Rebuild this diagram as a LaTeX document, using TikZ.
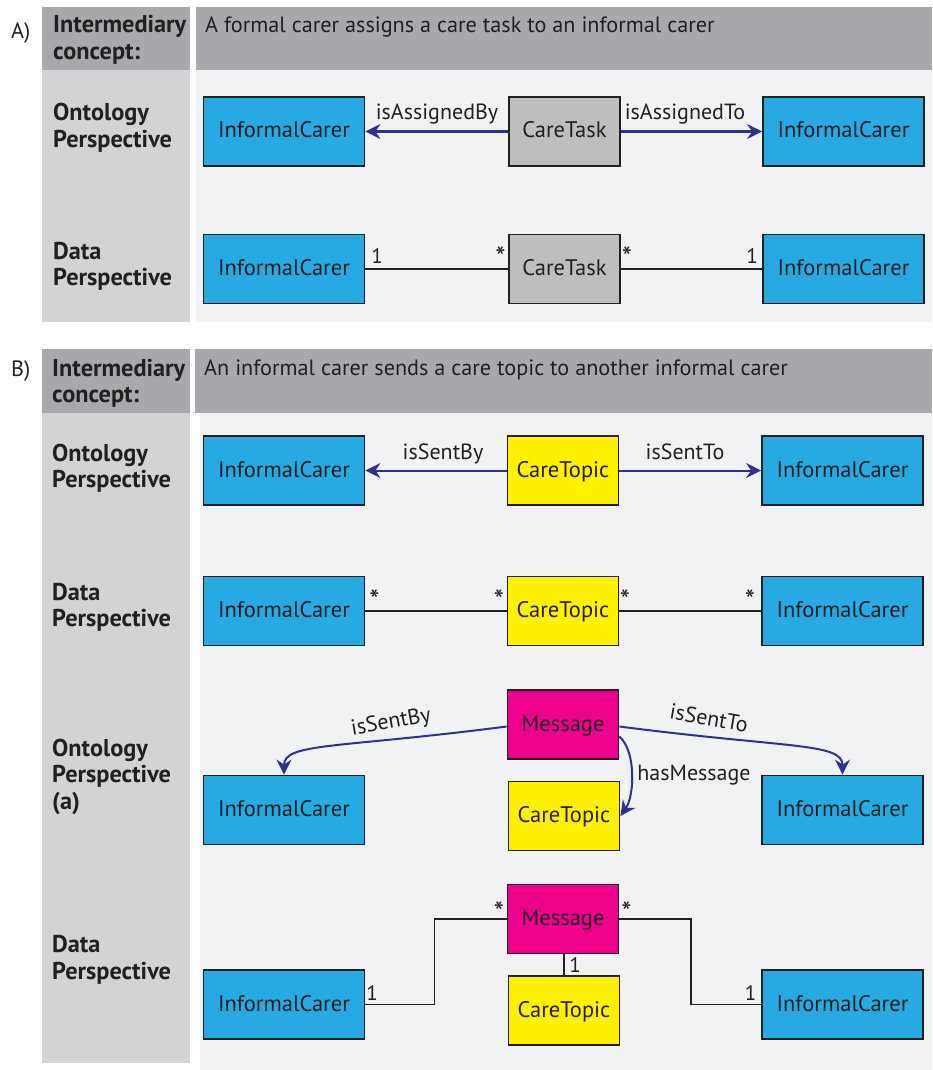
\documentclass[tikz,border=0pt]{standalone}
\usepackage{fontspec}
\setmainfont{PT Sans}
\usetikzlibrary{arrows.meta}

\definecolor{hdr}{HTML}{A7A9AC}
\definecolor{sidecol}{HTML}{D1D3D4}
\definecolor{panel}{HTML}{F1F2F4}
\definecolor{ink}{HTML}{231F20}
\definecolor{carerblue}{HTML}{27AAE1}
\definecolor{taskgray}{HTML}{BCBEC0}
\definecolor{topicyellow}{HTML}{FFF200}
\definecolor{msgmagenta}{HTML}{EC008C}
\definecolor{relblue}{HTML}{2E3192}

\begin{document}
\begin{tikzpicture}[x=1pt, y=-1pt,
  box/.style={draw=ink, line width=1.8pt, minimum height=69pt, inner sep=0pt,
    text=ink, text height=18pt, text depth=5pt, font=\fontsize{22.5}{27}\selectfont},
  carer/.style={box, fill=carerblue, minimum width=161pt},
  task/.style={box, fill=taskgray, minimum width=111pt},
  topic/.style={box, fill=topicyellow, minimum width=111pt},
  msg/.style={box, fill=msgmagenta, minimum width=111pt},
  rel/.style={draw=relblue, line width=2pt,
    -{Stealth[length=15pt, width=15pt, inset=5pt]}},
  assoc/.style={draw=ink, line width=1.7pt},
  rellabel/.style={text=ink, inner sep=0pt, font=\fontsize{22}{26}\selectfont},
  mult/.style={text=ink, inner sep=0pt, anchor=base, font=\fontsize{21}{25}\selectfont},
  many/.style={text=ink, inner sep=0pt, anchor=north, font=\fontsize{29}{34}\selectfont},
  side/.style={text=ink, inner sep=0pt, anchor=base west,
    font=\bfseries\fontsize{24.3}{26.5}\selectfont},
  headtext/.style={text=ink, inner sep=0pt, anchor=base west,
    font=\fontsize{22.2}{26}\selectfont},
]
\useasboundingbox (0,0) rectangle (932,1070);

% ---------- panel A backgrounds ----------
\fill[hdr] (42,7) rectangle (190,70);
\fill[hdr] (196,7) rectangle (932,70);
\fill[sidecol] (42,70) rectangle (190,322);
\fill[panel] (196,70) rectangle (932,322);

% ---------- panel B backgrounds ----------
\fill[hdr] (42,349) rectangle (190,413);
\fill[hdr] (195,349) rectangle (932,413);
\fill[sidecol] (42,413) rectangle (190,1063);
\fill[panel] (200,413) rectangle (932,1070);

% ---------- panel letters and headers ----------
\node[headtext] (labA) at (11,39) {A)};
\node[headtext] (labB) at (11,376) {B)};
\node[headtext] (headA) at (205,33) {A formal carer assigns a care task to an informal carer};
\node[headtext] (headB) at (204,375) {An informal carer sends a care topic to another informal carer};

% ---------- row titles ----------
\node[side] (sA0) at (53,33) {\begin{tabular}[t]{@{}l@{}}Intermediary\\concept:\end{tabular}};
\node[side] (sA1) at (53,121) {\begin{tabular}[t]{@{}l@{}}Ontology\\Perspective\end{tabular}};
\node[side] (sA2) at (53,259) {\begin{tabular}[t]{@{}l@{}}Data\\Perspective\end{tabular}};
\node[side] (sB0) at (52,376) {\begin{tabular}[t]{@{}l@{}}Intermediary\\concept:\end{tabular}};
\node[side] (sB1) at (52,461) {\begin{tabular}[t]{@{}l@{}}Ontology\\Perspective\end{tabular}};
\node[side] (sB2) at (52,600) {\begin{tabular}[t]{@{}l@{}}Data\\Perspective\end{tabular}};
\node[side] (sB3) at (52,756) {\begin{tabular}[t]{@{}l@{}}Ontology\\Perspective\\(a)\end{tabular}};
\node[side] (sB4) at (52,952.5) {\begin{tabular}[t]{@{}l@{}}Data\\Perspective\end{tabular}};

% ---------- A: ontology perspective ----------
\node[carer] (icA1) at (284,131.5) {InformalCarer};
\node[task]  (ctA1) at (564.5,131.5) {CareTask};
\node[carer] (icA2) at (843.5,131.5) {InformalCarer};
\draw[rel] (ctA1.west) -- (icA1.east);
\draw[rel] (ctA1.east) -- (icA2.west);
\node[rellabel, anchor=base] (rA1) at (437,120) {isAssignedBy};
\node[rellabel, anchor=base] (rA2) at (685,120) {isAssignedTo};

% ---------- A: data perspective ----------
\node[carer] (icA3) at (284,269) {InformalCarer};
\node[task]  (ctA2) at (564.5,269) {CareTask};
\node[carer] (icA4) at (843.5,269) {InformalCarer};
\draw[assoc] (icA3.east) -- (ctA2.west);
\draw[assoc] (ctA2.east) -- (icA4.west);
\node[mult] (mA1) at (377,263) {1};
\node[many] (mA2) at (500.5,247) {*};
\node[many] (mA3) at (627,247) {*};
\node[mult] (mA4) at (752,263) {1};

% ---------- B: ontology perspective ----------
\node[carer] (icB1) at (284,470.5) {InformalCarer};
\node[topic] (tpB1) at (563,470.5) {CareTopic};
\node[carer] (icB2) at (842.5,470.5) {InformalCarer};
\draw[rel] (tpB1.west) -- (icB1.east);
\draw[rel] (tpB1.east) -- (icB2.west);
\node[rellabel, anchor=base] (rB1) at (443,459) {isSentBy};
\node[rellabel, anchor=base] (rB2) at (685,459) {isSentTo};

% ---------- B: data perspective ----------
\node[carer] (icB3) at (284,611) {InformalCarer};
\node[topic] (tpB2) at (563,611) {CareTopic};
\node[carer] (icB4) at (842.5,611) {InformalCarer};
\draw[assoc] (icB3.east) -- (tpB2.west);
\draw[assoc] (tpB2.east) -- (icB4.west);
\node[many] (mB1) at (374.5,590) {*};
\node[many] (mB2) at (499,590) {*};
\node[many] (mB3) at (625,590) {*};
\node[many] (mB4) at (750,590) {*};

% ---------- B: ontology perspective (a) ----------
\node[msg]   (msC)  at (563,724.5) {Message};
\node[carer] (icC1) at (284,810) {InformalCarer};
\node[topic] (tpC)  at (564,816) {CareTopic};
\node[carer] (icC2) at (842.5,810) {InformalCarer};
\draw[rel] ([yshift=-2pt]msC.west) .. controls +(-170,22) and +(0,-32) .. (icC1.north);
\draw[rel] ([yshift=-2pt]msC.east) .. controls +(170,22) and +(0,-32) .. (icC2.north);
\draw[rel] ([yshift=-12pt]msC.east) .. controls +(17,15) and +(14,-20) .. (tpC.east);
\node[rellabel, rotate=10]  (rC1) at (391,723) {isSentBy};
\node[rellabel, rotate=-10] (rC2) at (709,718) {isSentTo};
\node[rellabel, anchor=base] (rC3) at (694,780) {hasMessage};

% ---------- B: data perspective (a) ----------
\node[msg]   (msD)  at (563,919) {Message};
\node[topic] (tpD)  at (564,1010.5) {CareTopic};
\node[carer] (icD1) at (284,1004.5) {InformalCarer};
\node[carer] (icD2) at (842.5,1004.5) {InformalCarer};
\draw[assoc] (msD.west) -- ++(-72,0) |- (icD1.east);
\draw[assoc] (msD.east) -- ++(71.5,0) |- (icD2.west);
\draw[assoc] (msD.south -| 564,0) -- (tpD.north);
\node[many] (mD1) at (499,902) {*};
\node[many] (mD2) at (626.5,902) {*};
\node[mult] (mD3) at (372,1000) {1};
\node[mult] (mD4) at (750.5,1000) {1};
\node[mult] (mD5) at (575,972) {1};
\end{tikzpicture}
\end{document}
